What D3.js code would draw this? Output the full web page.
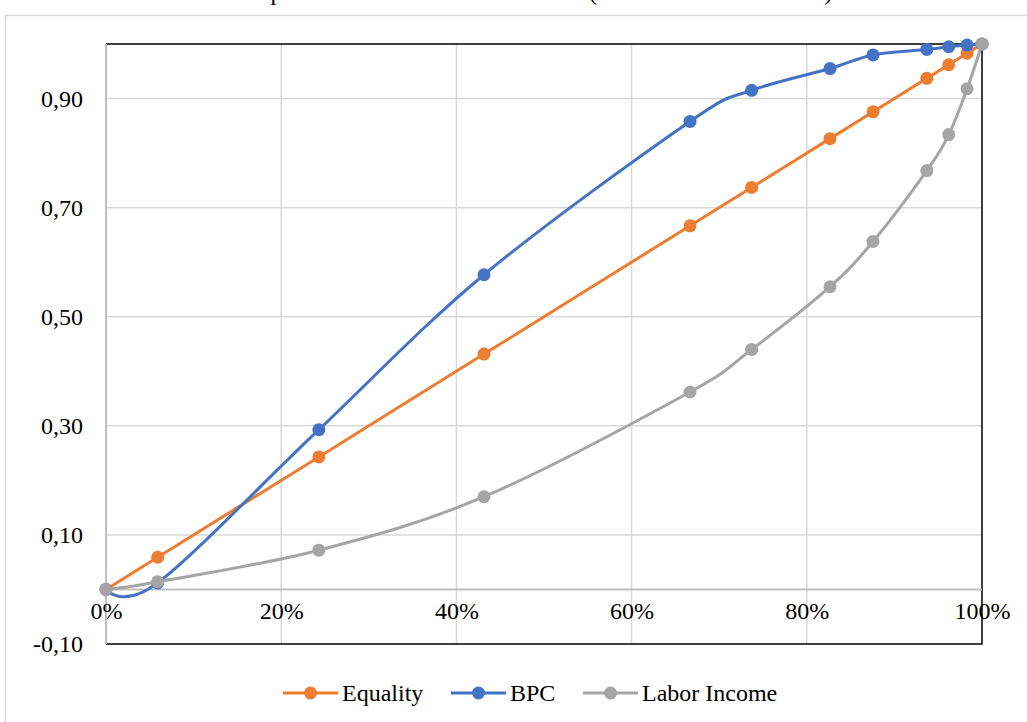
<!DOCTYPE html>
<html>
<head>
<meta charset="utf-8">
<script src="https://cdn.jsdelivr.net/npm/d3@7"></script>
<style>
  html, body { margin: 0; padding: 0; background: #fff; }
  svg { display: block; }
  text { font-family: "Liberation Serif", "Times New Roman", serif; fill: #000; }
</style>
</head>
<body>
<svg id="chart" width="1027" height="722"></svg>
<script>
// Cumulative population share (x) and cumulative shares for each curve (y)
const populationShare = [0, 0.059, 0.243, 0.4315, 0.6667, 0.737, 0.8265, 0.8756, 0.937, 0.962, 0.983, 1.0];
const equality        = [0, 0.059, 0.243, 0.4315, 0.6667, 0.737, 0.8265, 0.8756, 0.937, 0.962, 0.983, 1.0];
const bpc             = [0, 0.012, 0.293, 0.577, 0.858, 0.915, 0.955, 0.980, 0.990, 0.995, 0.998, 1.0];
const laborIncome     = [0, 0.014, 0.072, 0.170, 0.362, 0.440, 0.555, 0.638, 0.768, 0.834, 0.918, 1.0];

const seriesNames  = ["Equality", "BPC", "Labor Income"];
const seriesColors = ["#ED7D31", "#4472C4", "#A5A5A5"];
const yTicks = [-0.1, 0.1, 0.3, 0.5, 0.7, 0.9];
const xTicks = [0, 0.2, 0.4, 0.6, 0.8, 1.0];
const chartTitle = "Comparison of Concentration Curves (Labor Income and BPC)";

(function () {
const svg = d3.select("#chart");
const plotLeft = 106, plotRight = 982, plotTop = 44, plotBottom = 644;

const x = d3.scaleLinear().domain([0, 1]).range([plotLeft, plotRight]);
const y = d3.scaleLinear().domain([-0.1, 1.0]).range([plotBottom, plotTop]);

// Outer chart border
svg.append("rect")
  .attr("x", 5.5).attr("y", 15.5)
  .attr("width", 1040).attr("height", 730)
  .attr("fill", "none").attr("stroke", "#d9d9d9").attr("stroke-width", 1.5);

// Title (sits above the visible frame)
svg.append("text")
  .attr("x", 528).attr("y", 0)
  .attr("text-anchor", "middle")
  .style("font-size", "24px")
  .text(chartTitle);

// Gridlines
svg.append("g")
  .selectAll("line")
  .data(yTicks.filter(d => d > 0))
  .join("line")
  .attr("x1", plotLeft).attr("x2", plotRight)
  .attr("y1", d => y(d)).attr("y2", d => y(d))
  .attr("stroke", "#d9d9d9").attr("stroke-width", 1.5);

svg.append("g")
  .selectAll("line")
  .data(xTicks.filter(d => d > 0 && d < 1))
  .join("line")
  .attr("x1", d => x(d)).attr("x2", d => x(d))
  .attr("y1", plotTop).attr("y2", plotBottom)
  .attr("stroke", "#d9d9d9").attr("stroke-width", 1.5);

// Plot frame: black top, right, bottom
svg.append("path")
  .attr("d", `M${plotLeft},${plotTop}H${plotRight}V${plotBottom}H${plotLeft}`)
  .attr("fill", "none").attr("stroke", "#000").attr("stroke-width", 1.5);

// Vertical axis line and horizontal axis at zero
svg.append("line")
  .attr("x1", plotLeft).attr("x2", plotLeft).attr("y1", plotTop).attr("y2", plotBottom)
  .attr("stroke", "#bfbfbf").attr("stroke-width", 2);
svg.append("line")
  .attr("x1", plotLeft).attr("x2", plotRight).attr("y1", y(0)).attr("y2", y(0))
  .attr("stroke", "#bfbfbf").attr("stroke-width", 2);

// Y axis labels (comma decimal separator, plain hyphen for negatives)
const fmtY = v => d3.format(".2f")(v).replace(".", ",").replace("\u2212", "-");
const yAxis = d3.axisLeft(y).tickValues(yTicks).tickFormat(fmtY).tickSize(0).tickPadding(23);
const gy = svg.append("g").attr("transform", `translate(${plotLeft},0)`).call(yAxis);
gy.select(".domain").remove();
gy.selectAll("text")
  .style("font-family", '"Liberation Serif", "Times New Roman", serif')
  .style("font-size", "24px").attr("fill", "#000");

// X axis labels, placed next to the zero line
const xAxis = d3.axisBottom(x).tickValues(xTicks).tickFormat(d3.format(".0%")).tickSize(0).tickPadding(13);
const gx = svg.append("g").attr("transform", `translate(0,${y(0)})`).call(xAxis);
gx.select(".domain").remove();
gx.selectAll("text")
  .style("font-family", '"Liberation Serif", "Times New Roman", serif')
  .style("font-size", "24px").attr("fill", "#000");

// Series
const seriesValues = [equality, bpc, laborIncome];
const line = d3.line()
  .x(d => x(d[0])).y(d => y(d[1]))
  .curve(d3.curveCardinal.tension(0));

seriesValues.forEach((vals, i) => {
  const pts = populationShare.map((p, j) => [p, vals[j]]);
  const g = svg.append("g");
  g.append("path")
    .datum(pts)
    .attr("d", line)
    .attr("fill", "none")
    .attr("stroke", seriesColors[i])
    .attr("stroke-width", 3)
    .attr("stroke-linejoin", "round");
  g.selectAll("circle")
    .data(pts)
    .join("circle")
    .attr("cx", d => x(d[0])).attr("cy", d => y(d[1]))
    .attr("r", 6.5)
    .attr("fill", seriesColors[i]);
});

// Legend
const legendX = [283, 451, 583];
const legend = svg.append("g");
seriesNames.forEach((name, i) => {
  const lx = legendX[i], ly = 693;
  legend.append("line")
    .attr("x1", lx).attr("x2", lx + 55).attr("y1", ly).attr("y2", ly)
    .attr("stroke", seriesColors[i]).attr("stroke-width", 3);
  legend.append("circle")
    .attr("cx", lx + 27.5).attr("cy", ly).attr("r", 6.5)
    .attr("fill", seriesColors[i]);
  legend.append("text")
    .attr("x", lx + 59).attr("y", ly + 8)
    .style("font-size", "24px")
    .text(name);
});
})();
</script>
</body>
</html>
